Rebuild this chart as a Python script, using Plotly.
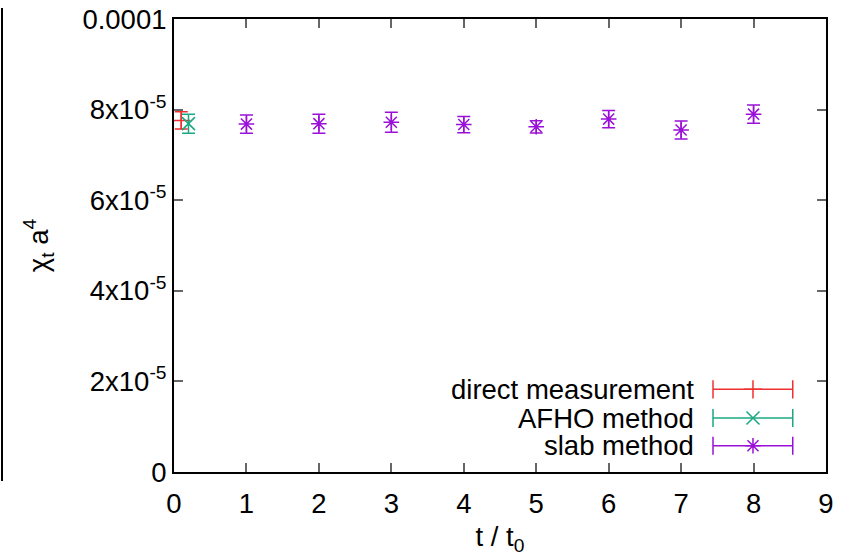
import plotly.graph_objects as go

# chi_t a^4 versus flow time t/t0 for three determinations
direct_t = [0.1]
direct_chi = [77.6e-6]
direct_err = [1.9e-6]

afho_t = [0.2]
afho_chi = [76.9e-6]
afho_err = [2.1e-6]

slab_t = [1, 2, 3, 4, 5, 6, 7, 8]
slab_chi = [76.8e-6, 76.9e-6, 77.2e-6, 76.7e-6, 76.2e-6, 77.9e-6, 75.5e-6, 79.0e-6]
slab_err = [2.0e-6, 2.1e-6, 2.2e-6, 1.8e-6, 1.35e-6, 1.9e-6, 2.0e-6, 2.0e-6]

x_ticks = [0, 1, 2, 3, 4, 5, 6, 7, 8, 9]
y_ticks = [0, 2e-5, 4e-5, 6e-5, 8e-5, 1e-4]
y_tick_text = ["0", "2x10<sup>-5</sup>", "4x10<sup>-5</sup>", "6x10<sup>-5</sup>",
               "8x10<sup>-5</sup>", "0.0001"]

series = [
    ("direct measurement", direct_t, direct_chi, direct_err, "#f03030", "cross-thin-open"),
    ("AFHO method", afho_t, afho_chi, afho_err, "#1aa882", "x-thin-open"),
    ("slab method", slab_t, slab_chi, slab_err, "#9a10d8", "asterisk-open"),
]

FONT = "Liberation Sans, Arial, sans-serif"
FS = 27.5
fig = go.Figure()

for name, xs, ys, es, col, sym in series:
    fig.add_trace(go.Scatter(
        x=xs, y=ys, mode="markers", name=name, showlegend=False,
        marker=dict(symbol=sym, size=13, color=col, line=dict(color=col, width=1.5)),
        error_y=dict(type="data", array=es, visible=True, color=col,
                     thickness=1.5, width=6.5),
    ))

# key: label on the left, error-bar sample on the right
key_rows = [0.1826, 0.1192, 0.0580]
key_x0, key_x1, key_xm = 0.8267, 0.949, 0.888
for (name, xs, ys, es, col, sym), ky in zip(series, key_rows):
    fig.add_trace(go.Scatter(
        x=[key_x0, key_x1], y=[ky, ky], mode="lines+markers", xaxis="x2", yaxis="y2",
        showlegend=False, hoverinfo="skip",
        line=dict(color=col, width=1.5),
        marker=dict(symbol="line-ns-open", size=13, color=col, line=dict(color=col, width=1.5)),
    ))
    fig.add_trace(go.Scatter(
        x=[key_xm], y=[ky], mode="markers", xaxis="x2", yaxis="y2",
        showlegend=False, hoverinfo="skip",
        marker=dict(symbol=sym, size=13, color=col, line=dict(color=col, width=1.5)),
    ))
    fig.add_annotation(
        x=0.8006, y=ky, xref="x2", yref="y2", text=name, showarrow=False,
        xanchor="right", yanchor="middle", font=dict(family=FONT, size=FS, color="black"),
    )

axis_common = dict(
    showline=True, linecolor="black", linewidth=2, mirror="ticks",
    ticks="inside", ticklen=9, tickwidth=1.5, tickcolor="#666",
    showgrid=False, zeroline=False, automargin=False,
    tickfont=dict(family=FONT, size=FS, color="black"),
)

fig.update_layout(
    width=850, height=559,
    margin=dict(l=174, r=24, t=19, b=87),
    paper_bgcolor="white", plot_bgcolor="white",
    font=dict(family=FONT, size=FS, color="black"),
    xaxis=dict(range=[0, 9], tickvals=x_ticks, ticktext=[str(v) for v in x_ticks],
               ticklabelstandoff=6,
               title=dict(text="t / t<sub>0</sub>", font=dict(family=FONT, size=FS), standoff=9),
               **axis_common),
    yaxis=dict(range=[0, 1e-4], tickvals=y_ticks, ticktext=y_tick_text,
               ticklabelstandoff=0,
               title=dict(text="χ<sub>t</sub> a<sup>4</sup>", font=dict(family=FONT, size=FS), standoff=26),
               **axis_common),
    xaxis2=dict(range=[0, 1], overlaying="x", visible=False, fixedrange=True),
    yaxis2=dict(range=[0, 1], overlaying="y", visible=False, fixedrange=True),
    showlegend=False,
)

# edge of the neighbouring panel on the left
fig.add_shape(type="line", xref="paper", yref="paper",
              x0=(2 - 174) / 652, x1=(2 - 174) / 652,
              y0=(472 - 8) / 453, y1=(472 - 481) / 453,
              line=dict(color="black", width=2))

fig.write_html("out.html")
